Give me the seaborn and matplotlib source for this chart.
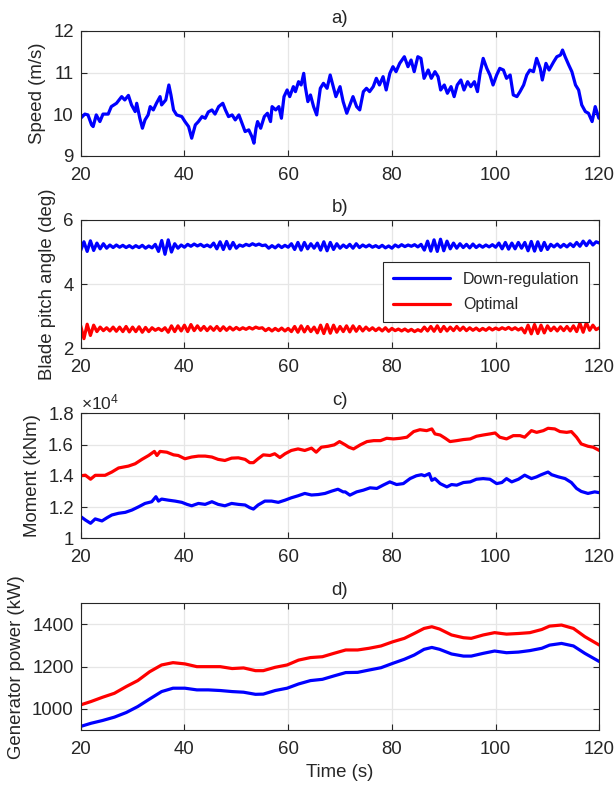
import matplotlib
matplotlib.use("Agg")
import matplotlib.pyplot as plt
import numpy as np
import pandas as pd
import seaborn as sns

# ---- a) wind speed (m/s) ----
speed_t = [20.0, 20.8, 21.4, 22.1, 22.4, 23.0, 23.7, 24.3, 25.3, 25.9, 26.9, 27.9,
           28.5, 29.2, 29.8, 30.5, 30.8, 31.4, 31.9, 32.4, 33.0, 33.4, 34.0, 34.6,
           35.3, 35.6, 36.4, 37.0, 37.4, 37.9, 38.5, 39.5, 40.1, 40.8, 41.4, 42.1,
           42.7, 43.4, 44.0, 44.6, 45.3, 45.9, 46.6, 47.4, 47.9, 48.5, 49.2, 49.8,
           50.5, 51.1, 51.7, 52.4, 53.0, 53.4, 53.8, 54.1, 54.7, 55.4, 56.0, 56.6,
           56.9, 57.6, 58.2, 58.7, 59.2, 59.8, 60.3, 61.0, 61.4, 62.0, 62.5, 63.0,
           63.3, 63.8, 64.3, 64.9, 65.5, 66.2, 66.8, 67.5, 68.1, 68.6, 69.2, 70.0,
           70.6, 71.3, 71.9, 72.5, 73.2, 73.8, 74.5, 75.1, 75.7, 76.4, 77.0, 77.6,
           78.3, 78.9, 79.6, 80.2, 80.8, 81.5, 82.4, 83.1, 83.7, 84.3, 85.0, 85.6,
           86.2, 87.0, 87.6, 88.3, 88.9, 89.4, 90.1, 90.7, 91.4, 92.0, 92.6, 93.3,
           93.9, 94.6, 95.2, 95.9, 96.5, 97.0, 97.6, 98.3, 98.9, 99.5, 100.2, 100.8,
           101.5, 102.1, 102.8, 103.4, 104.1, 104.7, 105.4, 106.0, 106.6, 107.3,
           107.9, 108.6, 109.0, 109.7, 110.3, 111.2, 111.8, 112.5, 112.9, 113.4,
           114.1, 114.7, 115.4, 116.0, 116.6, 117.3, 117.9, 118.6, 119.2, 119.9, 120.0]
speed = [9.90, 10.00, 9.98, 9.74, 9.70, 9.98, 9.82, 10.00, 10.00, 10.18, 10.26, 10.42,
         10.34, 10.45, 10.22, 10.06, 10.26, 9.90, 9.66, 9.86, 9.98, 10.18, 10.10, 10.26,
         10.42, 10.22, 10.34, 10.70, 10.46, 10.10, 9.98, 9.94, 9.82, 9.70, 9.42, 9.74,
         9.82, 9.94, 9.90, 10.05, 10.10, 10.00, 10.18, 10.26, 10.10, 9.94, 9.98, 9.86,
         9.98, 9.78, 9.58, 9.62, 9.46, 9.30, 9.66, 9.82, 9.66, 9.94, 10.02, 9.82,
         10.18, 10.10, 10.18, 9.90, 10.42, 10.58, 10.42, 10.66, 10.54, 10.78, 10.70, 10.98,
         10.66, 10.30, 10.46, 10.18, 9.98, 10.62, 10.74, 10.62, 10.94, 10.70, 10.42, 10.66,
         10.30, 10.02, 10.22, 10.42, 10.18, 10.10, 10.54, 10.62, 10.54, 10.66, 10.86, 10.70,
         10.90, 10.58, 10.98, 11.14, 11.02, 11.22, 11.38, 11.14, 11.30, 11.02, 11.38, 11.34,
         10.86, 11.06, 10.86, 11.02, 10.90, 10.58, 10.70, 10.50, 10.66, 10.42, 10.70, 10.82,
         10.58, 10.78, 10.66, 10.78, 10.54, 10.98, 11.34, 11.10, 10.94, 10.70, 10.94, 11.10,
         11.06, 10.86, 10.94, 10.46, 10.42, 10.54, 10.70, 10.94, 11.06, 11.02,
         11.34, 11.10, 10.82, 11.22, 11.06, 11.26, 11.38, 11.42, 11.54, 11.38,
         11.18, 11.02, 10.70, 10.58, 10.22, 10.06, 10.02, 9.82, 10.18, 9.90, 9.95]

# ---- b) blade pitch angle (deg), samples every 0.625 s from 20 to 120 s ----
pitch_down = [5.05, 5.32, 5.02, 5.35, 5.05,
              5.28, 5.10, 5.26, 5.12, 5.22, 5.14, 5.22,
              5.15, 5.21, 5.14, 5.20, 5.13, 5.20, 5.14, 5.21, 5.12, 5.19, 5.13,
              5.24, 5.02, 5.36, 4.93, 5.38, 5.00,
              5.26, 5.12, 5.22, 5.15,
              5.24, 5.18, 5.25, 5.19, 5.24, 5.17, 5.22, 5.16,
              5.28, 5.10, 5.32, 5.08, 5.33, 5.10, 5.30, 5.12,
              5.22, 5.18, 5.24, 5.20, 5.26, 5.21, 5.25, 5.20,
              5.22, 5.12, 5.20, 5.13, 5.22, 5.14, 5.21, 5.15,
              5.26, 5.08, 5.30, 5.06, 5.30, 5.10, 5.26, 5.12,
              5.28, 5.06, 5.32, 5.04, 5.30, 5.08, 5.26, 5.12,
              5.22, 5.14, 5.24, 5.12, 5.26, 5.14, 5.22, 5.16,
              5.22, 5.15, 5.20, 5.14, 5.21, 5.13, 5.19, 5.12,
              5.22, 5.16, 5.23, 5.17, 5.22, 5.18, 5.23, 5.16, 5.24,
              5.06, 5.34, 5.03, 5.38, 5.02, 5.40, 5.04, 5.34,
              5.10, 5.28, 5.12, 5.26, 5.14, 5.24, 5.13, 5.25, 5.14, 5.22, 5.15, 5.22,
              5.16, 5.23, 5.15,
              5.28, 5.10, 5.30, 5.09, 5.28, 5.10, 5.30, 5.12,
              5.30, 5.04, 5.33, 5.03, 5.32, 5.05, 5.30, 5.08,
              5.24, 5.16, 5.25, 5.15, 5.24, 5.16, 5.26, 5.17,
              5.30, 5.18, 5.34, 5.20, 5.35, 5.22, 5.32, 5.28]
pitch_opt = [2.70, 2.30, 2.75, 2.40, 2.72,
             2.52, 2.66, 2.55, 2.64, 2.54, 2.66, 2.53,
             2.66, 2.52, 2.68, 2.51, 2.66, 2.52, 2.67, 2.50, 2.65, 2.52, 2.64,
             2.56, 2.62, 2.55, 2.64, 2.50, 2.70,
             2.52, 2.70, 2.54, 2.72,
             2.52, 2.74, 2.55, 2.70, 2.56, 2.68, 2.55, 2.67,
             2.56, 2.68, 2.55, 2.67, 2.56, 2.66, 2.57, 2.65,
             2.58, 2.64, 2.59, 2.65, 2.60, 2.66, 2.62, 2.64,
             2.55, 2.62, 2.54, 2.62, 2.55, 2.63, 2.54, 2.62,
             2.52, 2.68, 2.50, 2.70, 2.51, 2.68, 2.52, 2.66,
             2.48, 2.72, 2.46, 2.74, 2.47, 2.72, 2.50, 2.68,
             2.52, 2.70, 2.51, 2.70, 2.53, 2.68, 2.54, 2.66,
             2.56, 2.64, 2.55, 2.63, 2.54, 2.64, 2.53, 2.62,
             2.55, 2.60, 2.54, 2.60, 2.53, 2.59, 2.52, 2.58, 2.53,
             2.66, 2.54, 2.68, 2.53, 2.70, 2.52, 2.68, 2.54,
             2.66, 2.55, 2.68, 2.56, 2.66, 2.55, 2.64, 2.56, 2.63, 2.55, 2.62, 2.56,
             2.64, 2.57, 2.63,
             2.58, 2.64, 2.59, 2.65, 2.58, 2.64, 2.57, 2.63,
             2.48, 2.72, 2.45, 2.74, 2.46, 2.72, 2.48, 2.70,
             2.55, 2.66, 2.54, 2.67, 2.55, 2.68, 2.54, 2.70,
             2.52, 2.78, 2.50, 2.80, 2.56, 2.72, 2.58, 2.64]

# ---- c) moment (x10^4 kNm) ----
moment_opt_t = [20.0, 20.9, 21.9, 22.8, 24.7, 26.0, 27.3, 29.2, 30.5, 31.8, 33.1, 34.2,
                34.7, 35.3, 36.6, 37.9, 38.8, 40.1, 41.4, 42.7, 44.0, 45.3, 46.5, 47.8,
                49.1, 50.4, 51.7, 52.6, 53.3, 54.2, 55.2, 56.5, 57.4, 58.4, 59.4, 60.6,
                61.9, 63.2, 64.5, 65.4, 66.4, 67.7, 68.9, 69.9, 71.0, 71.7, 72.6, 73.9,
                75.2, 76.5, 77.8, 79.0, 80.3, 81.6, 82.9, 84.2, 85.4, 86.7, 87.7, 88.3,
                89.3, 90.3, 91.2, 92.5, 93.8, 95.1, 96.3, 97.6, 98.9, 99.9, 100.8, 102.1,
                103.4, 104.7, 105.6, 106.9, 107.9, 109.2, 110.1, 111.4, 112.4, 113.7, 114.6,
                115.6, 116.5, 117.8, 118.8, 120.0]
moment_opt = [1.400, 1.404, 1.378, 1.403, 1.403, 1.424, 1.450, 1.462, 1.477, 1.505, 1.530, 1.556,
              1.530, 1.556, 1.551, 1.534, 1.530, 1.509, 1.520, 1.526, 1.526, 1.520, 1.505, 1.498,
              1.513, 1.515, 1.505, 1.484, 1.484, 1.509, 1.534, 1.530, 1.541, 1.517, 1.541, 1.562,
              1.572, 1.562, 1.577, 1.551, 1.583, 1.589, 1.598, 1.619, 1.598, 1.583, 1.572, 1.598,
              1.619, 1.625, 1.625, 1.640, 1.636, 1.640, 1.647, 1.683, 1.695, 1.689, 1.700, 1.668,
              1.661, 1.640, 1.619, 1.625, 1.632, 1.636, 1.653, 1.661, 1.668, 1.674, 1.647, 1.636,
              1.657, 1.657, 1.647, 1.689, 1.678, 1.689, 1.704, 1.700, 1.683, 1.678, 1.683,
              1.647, 1.604, 1.589, 1.583, 1.562]
moment_down_t = [20.0, 20.9, 21.9, 22.8, 24.1, 25.1, 26.0, 27.3, 28.6, 29.9, 31.2, 32.4,
                 33.7, 34.5, 35.0, 35.6, 36.9, 38.2, 39.5, 40.5, 41.4, 42.7, 44.0, 45.3,
                 46.5, 47.8, 49.1, 50.4, 51.7, 52.6, 53.3, 54.2, 55.5, 56.8, 58.1, 59.4,
                 60.6, 61.9, 63.2, 64.5, 65.8, 67.1, 68.4, 69.6, 70.6, 71.0, 71.9, 73.2,
                 74.5, 75.8, 77.1, 78.3, 79.6, 80.9, 82.2, 83.5, 84.7, 85.7, 86.3, 87.2,
                 87.7, 88.3, 89.3, 90.6, 91.5, 92.5, 93.8, 95.1, 96.3, 97.6, 98.9, 100.2,
                 101.2, 102.1, 103.1, 104.4, 105.6, 106.9, 107.9, 108.8, 110.1, 110.8,
                 112.1, 113.4, 114.6, 115.6, 116.5, 117.8, 119.1, 120.0]
moment_down = [1.139, 1.117, 1.096, 1.124, 1.111, 1.132, 1.149, 1.160, 1.166, 1.181, 1.202, 1.223,
               1.234, 1.266, 1.238, 1.251, 1.244, 1.238, 1.230, 1.217, 1.208, 1.223, 1.217, 1.234,
               1.217, 1.208, 1.223, 1.217, 1.213, 1.196, 1.187, 1.213, 1.238, 1.238, 1.230, 1.244,
               1.259, 1.272, 1.287, 1.277, 1.280, 1.287, 1.302, 1.314, 1.297, 1.297, 1.276, 1.297,
               1.308, 1.323, 1.319, 1.340, 1.361, 1.344, 1.350, 1.382, 1.400, 1.407, 1.400, 1.414,
               1.371, 1.382, 1.350, 1.329, 1.344, 1.340, 1.357, 1.361, 1.378, 1.382, 1.378, 1.350,
               1.357, 1.382, 1.361, 1.378, 1.404, 1.382, 1.393, 1.407, 1.424, 1.407,
               1.393, 1.382, 1.357, 1.319, 1.300, 1.287, 1.297, 1.292]

# ---- d) generator power (kW) ----
power_t = [20.0, 22.0, 24.2, 26.5, 28.8, 31.0, 33.3, 35.6, 37.8, 40.1, 42.4, 44.6,
           46.9, 49.2, 51.4, 53.7, 55.2, 57.5, 59.8, 62.0, 64.3, 66.6, 68.8, 71.1,
           73.4, 75.6, 77.9, 80.2, 82.4, 84.3, 86.2, 87.7, 89.2, 91.5, 93.8, 95.3,
           97.6, 99.8, 102.1, 104.4, 106.6, 108.9, 110.4, 112.7, 115.0, 117.2, 120.0]
power_opt = [1019, 1035, 1055, 1074, 1106, 1134, 1176, 1208, 1219, 1213, 1200, 1200,
             1200, 1191, 1194, 1181, 1181, 1197, 1208, 1231, 1243, 1247, 1263, 1279,
             1279, 1287, 1298, 1318, 1334, 1357, 1381, 1389, 1378, 1350, 1337, 1334,
             1350, 1361, 1354, 1357, 1361, 1376, 1392, 1397, 1381, 1342, 1302]
power_down = [917, 932, 945, 961, 983, 1011, 1047, 1082, 1098, 1098, 1090, 1090,
              1087, 1082, 1079, 1069, 1070, 1087, 1098, 1118, 1134, 1140, 1156, 1172,
              1173, 1184, 1195, 1216, 1235, 1255, 1282, 1291, 1282, 1260, 1250, 1250,
              1263, 1274, 1266, 1269, 1276, 1287, 1302, 1310, 1298, 1263, 1224]

BLUE = "#0000ff"
RED = "#ff0000"
DARK = "#262626"

sns.set_theme(style="whitegrid")
plt.rcParams["font.family"] = ["Liberation Sans", "DejaVu Sans"]
plt.rcParams["mathtext.fontset"] = "custom"
plt.rcParams["mathtext.rm"] = "Liberation Sans"
plt.rcParams.update({
    "axes.edgecolor": DARK,
    "axes.linewidth": 0.8,
    "grid.color": "#e6e6e6",
    "grid.linewidth": 0.9,
    "text.color": DARK,
    "axes.labelcolor": DARK,
    "xtick.color": DARK,
    "ytick.color": DARK,
    "lines.solid_joinstyle": "round",
})

FS = 13.4
fig = plt.figure(figsize=(6.16, 7.91), dpi=100)
left, width = 0.131, 0.842
ax_a = fig.add_axes([left, 0.8032, width, 0.1577])
ax_b = fig.add_axes([left, 0.5597, width, 0.1622])
ax_c = fig.add_axes([left, 0.3195, width, 0.1580])
ax_d = fig.add_axes([left, 0.0771, width, 0.1602])

lw = 2.3
sns.lineplot(x=speed_t, y=speed, ax=ax_a, color=BLUE, lw=lw, estimator=None, sort=False)

pitch_t = np.linspace(20, 120, len(pitch_down))
sns.lineplot(x=pitch_t, y=pitch_down, ax=ax_b, color=BLUE, lw=lw, estimator=None,
             sort=False, label="Down-regulation")
sns.lineplot(x=np.linspace(20, 120, len(pitch_opt)), y=pitch_opt, ax=ax_b, color=RED,
             lw=lw, estimator=None, sort=False, label="Optimal")

sns.lineplot(x=moment_opt_t, y=moment_opt, ax=ax_c, color=RED, lw=lw, estimator=None, sort=False)
sns.lineplot(x=moment_down_t, y=moment_down, ax=ax_c, color=BLUE, lw=lw, estimator=None, sort=False)

sns.lineplot(x=power_t, y=power_opt, ax=ax_d, color=RED, lw=lw, estimator=None, sort=False)
sns.lineplot(x=power_t, y=power_down, ax=ax_d, color=BLUE, lw=lw, estimator=None, sort=False)

panels = [
    (ax_a, "a)", "Speed (m/s)", (9, 12), [9, 10, 11, 12]),
    (ax_b, "b)", "Blade pitch angle (deg)", (2, 6), [2, 4, 6]),
    (ax_c, "c)", "Moment (kNm)", (1, 1.8), [1, 1.2, 1.4, 1.6, 1.8]),
    (ax_d, "d)", "Generator power (kW)", (900, 1500), [1000, 1200, 1400]),
]
for ax, title, ylab, ylim, yticks in panels:
    ax.set_xlim(20, 120)
    ax.set_ylim(*ylim)
    ax.set_xticks([20, 40, 60, 80, 100, 120])
    ax.set_yticks(yticks)
    ax.set_yticklabels([f"{v:g}" for v in yticks])
    ax.set_title(title, fontsize=FS, pad=6)
    ax.set_ylabel(ylab, fontsize=FS, labelpad=5)
    ax.set_xlabel("")
    ax.tick_params(axis="both", which="both", direction="in", length=4, width=0.8,
                   top=True, right=True, bottom=True, left=True, labelsize=FS)
    ax.tick_params(axis="x", pad=8)
    ax.tick_params(axis="y", pad=5)
    for sp in ax.spines.values():
        sp.set_visible(True)
        sp.set_color(DARK)
        sp.set_linewidth(0.8)
    ax.grid(True)

ax_c.text(0.0, 1.01, r"$\mathregular{\times10^{4}}$", transform=ax_c.transAxes,
          ha="left", va="bottom", fontsize=12.5, color=DARK)
ax_d.set_xlabel("Time (s)", fontsize=FS, labelpad=4)

leg = ax_b.legend(loc="upper right", bbox_to_anchor=(0.98, 0.669), borderaxespad=0,
                  fontsize=11.5, frameon=True, fancybox=False, framealpha=1,
                  edgecolor=DARK, handlelength=3.6, borderpad=0.6, labelspacing=0.65)
leg.get_frame().set_linewidth(0.8)
for ax in (ax_a, ax_c, ax_d):
    if ax.get_legend() is not None:
        ax.get_legend().remove()

fig.savefig("out.png", dpi=100)
